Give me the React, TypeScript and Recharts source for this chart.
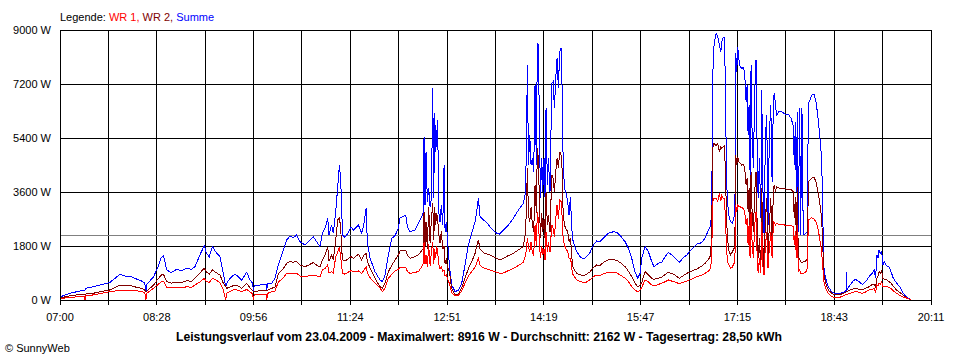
import React from "react";
import {
  CartesianGrid,
  Line,
  LineChart,
  ReferenceLine,
  XAxis,
  YAxis,
} from "recharts";

// minutes after 07:00
const times = [
  // 07:00 - 09:15
  0, 3, 9, 18, 22, 22.7, 23.5, 30, 39, 45,
  50, 54.5, 59, 65, 70, 74, 77, 78, 79, 85,
  89, 92, 94, 97, 101, 106, 110.5, 115, 119.5, 122.6,
  127, 131, 133, 135.6,
  // 09:15 - 11:25
  138.4, 142.3, 145.3, 148.3, 150.5, 151.4, 154.4, 158.9, 162, 165,
  169.5, 172.6, 175, 175.6, 176.5, 180.1, 184.7, 187.1, 187.7, 188.6,
  192.2, 195.3, 198.3, 201.9, 205.9, 208.9, 211.9, 214.9, 218, 222.5,
  225.5, 230.1, 233.1, 236.1, 238.2, 240.7, 243.1, 244.3, 246.7, 248.2,
  250.4, 252.2, 253.7, 254.9, 255.8, 256.7, 258.8, 261.3, 264.3,
  // 11:25 - 13:40
  266.4, 271, 274, 276.1, 278, 279.1, 281.6, 286.1, 290.6, 292.8,
  295.2, 298.2, 301.2, 304.3, 307.3, 308.8, 311.8, 314, 315.5, 317.9,
  322.4, 325.5, 328.5, 330, 330.6, 331.5, 332.4, 333.6, 334.8, 336.1,
  337.3, 338.5, 339.4, 340.3, 341.2, 342.1, 343, 343.9, 345.1, 346.3,
  347.6, 348.8, 349.7, 350.9, 351.8, 353.6, 355.7, 358.8, 361.8, 364.8,
  367.8, 370.9, 373.9, 376.9, 378.4, 379.9, 381.5, 384.5, 387.5, 390.5,
  395.1, 399,
  // 13:40 - 15:50
  402.7, 407.2, 411.7, 416.3, 420.8, 422.9, 424.5, 425.4, 426.6, 427.8,
  429, 430.2, 431.4, 432.6, 433.5, 434.4, 435.4, 436.3, 437.5, 438.4,
  439.6, 440.5, 441.4, 442.6, 443.5, 445, 446.6, 447.8, 449, 450.2,
  451.4, 452.6, 453.8, 455, 455.9, 456.9, 458.1, 459.3, 461.1, 462.3,
  463.5, 464.4, 465.3, 467.1, 469.3, 472.3, 475.3, 478.3, 481.4, 484.4,
  487.4, 490.4, 493.5, 498, 502.6, 505.6, 509.5, 513.2, 516.2, 519.2,
  522.2, 524.7, 526.8, 528.3,
  // 15:50 - 18:00
  531.3, 534.4, 537.4, 539.5, 543.4, 546.5, 549.5, 552.5, 555.6, 558.6,
  562.5, 565.5, 569.2, 572.2, 575.2, 578.3, 582.8, 585.8, 588.9, 591,
  591.9, 592.8, 594, 595.8, 597.3, 598.8, 600.1, 601, 602.2, 603.4,
  604.3, 605.2, 606.1, 607.6, 609.1, 610.6, 612.2, 613.1, 613.7, 614.6,
  615.5, 616.4, 617.6, 619.1, 620.6, 621.8, 623.1, 624, 624.9, 625.8,
  626.7, 627.6, 628.5, 629.7, 630.9, 632.1, 633, 634, 635.2, 636.4,
  637.3, 638.2, 639.4, 640.6, 641.8, 643, 644.2, 645.5, 646.7, 647.9,
  648.8, 649.7, 650.9, 653.3, 656.4, 659.4,
  // 18:00 - 19:53
  661.4, 663.9, 665.7, 666.9, 667.8, 668.7, 669.6, 670.5, 671.7, 672.6,
  673.8, 675, 677.2, 678.7, 679.6, 681.1, 682.6, 684.7, 686.6, 688.1,
  689.9, 691.7, 692.9, 693.8, 695.3, 697.7, 700.8, 703.8, 708.3, 712.9,
  713.8, 714.1, 714.7, 717.4, 720.4, 722.6, 725.6, 728.6, 731.7, 734.7,
  737.7, 739.5, 740.7, 741.9, 742.9, 743.8, 745, 746.2, 747.4, 748.6,
  750.7, 752.8, 754.7, 756.8, 759.8, 762.8, 765, 767.4, 769.8, 771.9,
  772.8,
];

// WR 1 (red), W
const wr1 = [
  40, 60, 90, 110, 120, 0, 160, 167, 230, 277,
  300, 333, 320, 333, 310, 277, 250, 0, 230, 390,
  520, 610, 620, 423, 400, 420, 400, 443, 420, 500,
  600, 723, 620, 590,
  723, 650, 577, 333, 0, 223, 290, 357, 320, 280,
  350, 270, 200, 0, 190, 190, 200, 200, 0, 220,
  277, 300, 610, 700, 890, 890, 870, 890, 800, 777,
  800, 833, 800, 777, 1000, 1050, 1167, 900, 950, 900,
  1443, 1600, 1777, 1450, 1110, 890, 860, 920, 977,
  940, 967, 890, 1000, 1100, 900, 743, 557, 400, 277,
  400, 723, 850, 967, 1030, 1077, 1077, 1077, 950, 890,
  920, 950, 1100, 1223, 1943, 1200, 1500, 1100, 1850, 1150,
  1600, 1943, 1200, 1700, 1400, 1800, 1600, 1200, 1050, 1100,
  950, 1000, 800, 850, 700, 557, 250, 143, 150, 300,
  557, 800, 943, 1100, 1223, 1390, 1150, 1077, 1040, 1000,
  950, 890,
  900, 980, 1057, 1150, 1257, 1500, 2057, 1800, 1600, 1943,
  1557, 1500, 2500, 1800, 2943, 2700, 1900, 1390, 1800, 1500,
  1700, 1333, 2277, 1600, 1943, 1600, 2500, 2400, 2100, 2700,
  3167, 2700, 3333, 3280, 2833, 2057, 1833, 1720, 1610, 1390,
  1390, 1223, 890, 780, 667, 620, 590, 600, 680, 780,
  833, 820, 870, 923, 930, 900, 820, 723, 620, 443,
  330, 277, 330, 420,
  667, 600, 500, 470, 520, 557, 610, 667, 630, 600,
  540, 590, 633, 680, 720, 777, 830, 890, 960, 1057,
  1610, 3277, 3390, 3400, 3300, 3557, 3300, 3480, 3390, 3390,
  2723, 1833, 1277, 1167, 1057, 1100, 1223, 1610, 3167, 2943,
  3167, 3110, 3110, 3080, 3050, 2943, 2500, 2723, 1833, 2500,
  1390, 2943, 1950, 1390, 2500, 2943, 1610, 890, 1390, 890,
  2610, 1167, 833, 1833, 2277, 1057, 1720, 2277, 1390, 2610,
  2560, 2500, 2560, 2500, 2520, 2480,
  2500, 2480, 2443, 1833, 2300, 1390, 2500, 943, 1000, 890,
  890, 890, 920, 1057, 2667, 2700, 2743, 2700, 2610, 2443,
  2057, 1610, 1000, 610, 390, 223, 110, 90, 90, 167,
  170, 170, 180, 223, 260, 277, 260, 220, 270, 333,
  360, 390, 250, 500, 480, 557, 530, 610, 443, 460,
  443, 420, 380, 300, 223, 150, 110, 80, 57, 23,
  10,
];

// WR 2 (dark red), W
const wr2 = [
  60, 90, 143, 180, 190, 190, 200, 223, 290, 333,
  420, 500, 480, 467, 420, 390, 330, 277, 300, 500,
  700, 833, 850, 610, 560, 600, 580, 643, 620, 723,
  900, 1057, 930, 867,
  1000, 900, 833, 557, 450, 390, 430, 500, 460, 390,
  557, 400, 320, 277, 290, 300, 333, 330, 333, 330,
  390, 430, 890, 1000, 1223, 1277, 1260, 1280, 1167, 1110,
  1160, 1250, 1160, 1100, 1333, 1500, 1777, 1290, 1500, 1340,
  2000, 2667, 2723, 2443, 1667, 1333, 1300, 1360, 1443,
  1390, 1523, 1333, 1500, 1550, 1300, 1057, 723, 443, 390,
  560, 943, 1150, 1333, 1500, 1633, 1650, 1667, 1500, 1390,
  1450, 1500, 1650, 1723, 2943, 1800, 2600, 1700, 3110, 1900,
  2700, 3223, 2000, 3100, 2500, 2900, 2700, 2200, 1900, 2300,
  1700, 1800, 1200, 1400, 1100, 943, 380, 167, 180, 400,
  723, 1050, 1277, 1550, 1777, 2000, 1700, 1577, 1540, 1500,
  1420, 1333,
  1390, 1480, 1557, 1670, 1777, 2277, 4390, 2833, 2600, 3100,
  2500, 2277, 3833, 2900, 5057, 4723, 3300, 2057, 2900, 2277,
  2700, 2057, 3610, 2500, 2833, 2277, 4167, 4057, 3610, 4280,
  4723, 4400, 4943, 4830, 4400, 2943, 2500, 2390, 2277, 1943,
  2057, 1723, 1167, 1000, 890, 840, 810, 860, 943, 1080,
  1167, 1150, 1250, 1333, 1340, 1320, 1230, 1110, 960, 777,
  560, 443, 500, 580,
  943, 830, 723, 690, 730, 760, 850, 923, 880, 830,
  723, 800, 890, 940, 990, 1033, 1130, 1223, 1350, 1500,
  2500, 5057, 5223, 5150, 5223, 4943, 5100, 5057, 5100, 5150,
  4277, 2943, 2057, 1610, 1500, 1610, 1720, 2500, 4833, 4500,
  4780, 4610, 4560, 4500, 4520, 4390, 3833, 4057, 2943, 3720,
  2277, 4277, 2943, 2277, 3610, 4277, 2723, 1390, 2057, 943,
  3720, 1943, 943, 2723, 3390, 1390, 2500, 3390, 1943, 3723,
  3830, 3610, 3777, 3720, 3720, 3700,
  3700, 3680, 3610, 2723, 3440, 2057, 3777, 1390, 1390, 1277,
  1230, 1277, 1300, 1390, 3943, 4000, 4057, 4100, 3943, 3667,
  3277, 2723, 1610, 833, 557, 333, 223, 167, 180, 243,
  260, 270, 280, 333, 370, 390, 360, 340, 390, 443,
  523, 530, 440, 723, 800, 943, 900, 967, 720, 700,
  667, 620, 557, 450, 333, 250, 190, 110, 57, 23,
  10,
];

// Summe (blue), W
const summe = [
  100, 143, 223, 300, 310, 330, 390, 443, 523, 577,
  723, 857, 800, 777, 690, 633, 557, 277, 530, 777,
  1110, 1423, 1467, 1000, 910, 1023, 977, 1057, 1023, 1110,
  1500, 1810, 1557, 1443,
  1777, 1557, 1443, 890, 450, 557, 723, 867, 777, 667,
  923, 667, 557, 300, 500, 477, 533, 530, 333, 550,
  557, 723, 1167, 1557, 2000, 2133, 2077, 2167, 1943, 1833,
  1943, 2110, 1943, 1777, 2223, 2390, 2723, 2167, 2500, 2223,
  2943, 3777, 4500, 4057, 3000, 2167, 2090, 2223, 2443,
  2333, 2500, 2223, 2557, 3057, 1943, 1390, 943, 667, 610,
  833, 1500, 2057, 2143, 2390, 2743, 2777, 2833, 2443, 2277,
  2333, 2557, 2777, 2943, 5443, 3167, 4943, 3277, 3723, 3110,
  3390, 7057, 3390, 6223, 4943, 5500, 6000, 2943, 2610, 3167,
  2500, 4500, 2277, 2610, 2057, 1167, 500, 277, 333, 557,
  1167, 1833, 2223, 2610, 2943, 3390, 2777, 2667, 2590, 2443,
  2257, 2190,
  2333, 2500, 2723, 3000, 3223, 3610, 7833, 4500, 5500, 4500,
  4723, 4277, 7167, 4500, 8557, 8500, 5833, 3390, 4723, 3610,
  4723, 3390, 6390, 3833, 4723, 3610, 7223, 7277, 6390, 7390,
  8057, 7057, 8277, 8390, 7167, 4723, 3723, 3610, 3277, 2833,
  3443, 2723, 2057, 1833, 1610, 1443, 1367, 1443, 1590, 1833,
  1967, 1943, 2057, 2223, 2277, 2257, 2110, 1943, 1723, 1390,
  943, 723, 890, 1390,
  1777, 1610, 1277, 1110, 1223, 1257, 1443, 1590, 1500, 1390,
  1257, 1390, 1500, 1633, 1743, 1867, 1910, 2057, 2333, 2500,
  3167, 7500, 8500, 8890, 8777, 8500, 8277, 8610, 8743, 8743,
  7167, 4277, 3277, 2777, 2610, 2557, 2777, 3610, 8223, 7610,
  8443, 8057, 7777, 7723, 7743, 7557, 6610, 7167, 5500, 6500,
  4167, 7833, 5610, 4390, 6943, 8000, 5390, 3390, 4723, 2723,
  7000, 3943, 2167, 5390, 6167, 2500, 5500, 6500, 3943, 6777,
  6890, 6500, 6167, 6300, 6257, 6167,
  6190, 6057, 5833, 4500, 5943, 3610, 6277, 2277, 6390, 2167,
  6410, 2167, 2223, 2277, 6557, 6667, 6833, 6857, 6610, 6167,
  5500, 4723, 2500, 1057, 723, 443, 277, 223, 223, 277,
  300, 943, 333, 500, 633, 690, 610, 523, 610, 777,
  890, 1000, 723, 1500, 1390, 1667, 1557, 1610, 1167, 1277,
  1143, 1110, 943, 723, 557, 443, 277, 143, 77, 33,
  15,
];

const xTicks = [
  0, 43.9, 87.9, 131.8, 175.8, 219.7, 263.7, 307.6, 351.6, 395.5,
  439.4, 483.4, 527.3, 571.3, 615.2, 659.2, 703.1, 747.1, 791,
];
const xLabels = ["07:00", "08:28", "09:56", "11:24", "12:51", "14:19", "15:47", "17:15", "18:43", "20:11"];
const yTicks = [0, 1800, 3600, 5400, 7200, 9000];
const average = 2162;

const title =
  "Leistungsverlauf vom 23.04.2009 - Maximalwert: 8916 W - Durchschnitt: 2162 W - Tagesertrag: 28,50 kWh";

const font = '"Liberation Sans", Arial, sans-serif';

const data = times.map((t, i) => ({ t, wr1: wr1[i], wr2: wr2[i], summe: summe[i] }));

function xLabel(value: number) {
  const idx = xTicks.indexOf(value);
  return idx % 2 === 0 ? xLabels[idx / 2] : "";
}

export default function App() {
  const tickStyle = { fill: "#000", fontSize: 11, fontFamily: font };
  return (
    <div style={{ position: "relative", width: 960, height: 360, background: "#fff" }}>
      <style>{`
        body { margin: 0; }
        .recharts-cartesian-grid line,
        .recharts-cartesian-axis-line,
        .recharts-cartesian-axis-tick-line,
        .recharts-reference-line line,
        .recharts-line-curve { shape-rendering: crispEdges; }
      `}</style>
      <LineChart
        width={960}
        height={360}
        data={data}
        margin={{ top: 30, right: 29, bottom: 0, left: 0 }}
      >
        <CartesianGrid stroke="#000" strokeWidth={1} />
        <XAxis
          dataKey="t"
          type="number"
          domain={[0, 791]}
          ticks={xTicks}
          interval={0}
          tickFormatter={xLabel}
          tick={tickStyle}
          tickLine={{ stroke: "#000" }}
          axisLine={{ stroke: "#000" }}
          tickSize={5}
          tickMargin={8}
          height={60}
        />
        <YAxis
          type="number"
          domain={[0, 9000]}
          ticks={yTicks}
          interval={0}
          width={60}
          tickFormatter={(v: number) => `${v} W`}
          tick={tickStyle}
          tickLine={false}
          axisLine={{ stroke: "#000" }}
          tickSize={6}
          tickMargin={3}
        />
        <ReferenceLine y={average} stroke="#808080" strokeWidth={1} />
        <Line type="linear" dataKey="summe" stroke="#0000ff" strokeWidth={1} dot={false} activeDot={false} isAnimationActive={false} />
        <Line type="linear" dataKey="wr2" stroke="#800000" strokeWidth={1} dot={false} activeDot={false} isAnimationActive={false} />
        <Line type="linear" dataKey="wr1" stroke="#ff0000" strokeWidth={1} dot={false} activeDot={false} isAnimationActive={false} />
      </LineChart>
      <svg
        width={960}
        height={360}
        style={{ position: "absolute", left: 0, top: 0, pointerEvents: "none" }}
      >
        <text x={60} y={21} fontSize={11} fontFamily={font}>
          <tspan fill="#000">Legende: </tspan>
          <tspan fill="#ff0000">WR 1, </tspan>
          <tspan fill="#800000">WR 2, </tspan>
          <tspan fill="#0000ff">Summe</tspan>
        </text>
        <text x={479} y={341} fontSize={12.2} fontWeight="bold" fontFamily={font} textAnchor="middle" fill="#000">
          {title}
        </text>
        <text x={5} y={352} fontSize={11} fontFamily={font} fill="#000">
          © SunnyWeb
        </text>
      </svg>
    </div>
  );
}
